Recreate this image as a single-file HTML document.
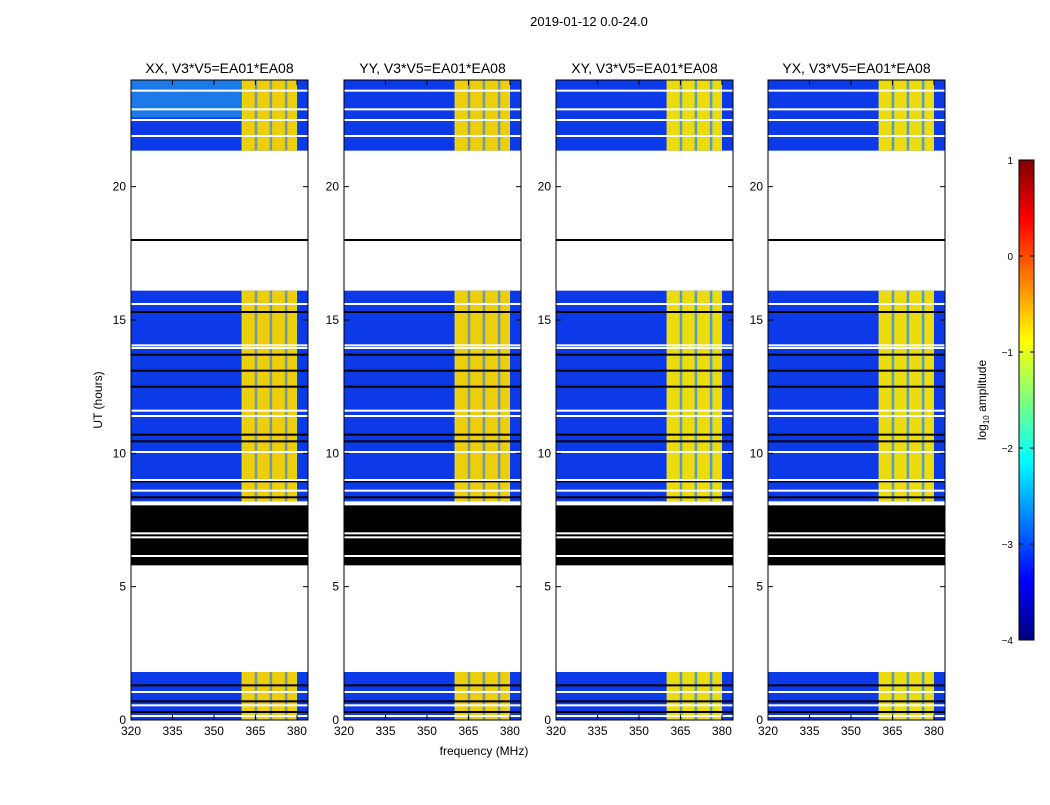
<!DOCTYPE html>
<html><head><meta charset="utf-8">
<style>
body{margin:0;background:#fff;font-family:"Liberation Sans",sans-serif;}
svg text{font-family:"Liberation Sans",sans-serif;}
</style></head>
<body>
<svg id="fig" width="1050" height="800" xmlns="http://www.w3.org/2000/svg">
<defs>
<linearGradient id="jet" x1="0" y1="1" x2="0" y2="0">
<stop offset="0" stop-color="#000080"/><stop offset="0.125" stop-color="#0000ff"/>
<stop offset="0.375" stop-color="#00ffff"/><stop offset="0.625" stop-color="#ffff00"/>
<stop offset="0.875" stop-color="#ff0000"/><stop offset="1" stop-color="#800000"/>
</linearGradient>
</defs>
<text x="589" y="26" font-size="13" text-anchor="middle">2019-01-12 0.0-24.0</text>
<text x="484" y="755" font-size="12" text-anchor="middle">frequency (MHz)</text>
<text x="102" y="400" font-size="12" text-anchor="middle" transform="rotate(-90 102 400)">UT (hours)</text>
<g id="panels"></g>
<g id="cbar"></g>
</svg>
<script>
const panelTitles = ["XX, V3*V5=EA01*EA08","YY, V3*V5=EA01*EA08","XY, V3*V5=EA01*EA08","YX, V3*V5=EA01*EA08"];
const dataSegments = [[0,1.8],[8.2,16.1],[21.35,24]];
const blackSegments = [[5.8,8.05]];
const blackLines = [18,0.3,0.7,1.3,8.35,8.95,10.45,10.7,12.5,13.1,13.7,15.3];
const whiteLines = [0.15,0.55,1.05,6.15,6.85,7.0,8.6,9.0,10.05,11.4,11.6,13.95,14.05,15.6,21.9,22.5,22.9,23.6];
const bandRange = [360,380];
const bandGaps = [365.1,370.5,376];
const xTicks = [320,335,350,365,380];
const yTicks = [0,5,10,15,20];
const cbarTicks = [1,0,-1,-2,-3,-4];
const panelLeft = [131,344,556,768];
const NS="http://www.w3.org/2000/svg";
function el(tag,attrs,parent){const e=document.createElementNS(NS,tag);for(const k in attrs)e.setAttribute(k,attrs[k]);parent.appendChild(e);return e;}
const W=177,plotTop=80,plotBot=720;
const yS=t=>plotBot-(t/24)*(plotBot-plotTop);
const P=document.getElementById('panels');
panelLeft.forEach((x0,i)=>{
  const xS=f=>x0+(f-320)*(W/64);
  const g=el('g',{},P);
  
  
  dataSegments.forEach(s=>{
    const y1=yS(s[1]),y0=yS(s[0]);
    const r=el('rect',{x:x0,y:y1,width:W,height:y0-y1,fill:'#0c3ae8'},g);
    
    
    const b=el('rect',{x:xS(bandRange[0]),y:y1,width:xS(bandRange[1])-xS(bandRange[0]),height:y0-y1,fill:'#eaea10'},g);
    
    
    bandGaps.forEach(f=>{el('rect',{x:xS(f)-1,y:y1,width:2.5,height:y0-y1,fill:'#3aa0e8'},g);});
    el('rect',{x:xS(bandRange[0])+1,y:y1,width:xS(bandRange[1])-xS(bandRange[0])-2,height:y0-y1,fill:'#f59000',opacity:i<2?0.3:0.15},g);
  });
  if(i===0){el('rect',{x:x0,y:yS(24),width:110,height:yS(22.6)-yS(24),fill:'#30c8e8',opacity:0.45},g);}
  blackSegments.forEach(s=>{const r=el('rect',{x:x0,y:yS(s[1]),width:W,height:yS(s[0])-yS(s[1]),fill:'#000'},g);
    });
  blackLines.forEach(t=>el('rect',{x:x0,y:yS(t)-1,width:W,height:2,fill:'#000'},g));
  whiteLines.forEach(t=>el('rect',{x:x0,y:yS(t)-1,width:W,height:2,fill:'#fff'},g));
  el('rect',{x:x0,y:plotTop,width:W,height:plotBot-plotTop,fill:'none',stroke:'#000','stroke-width':1},g);
  const tt=el('text',{x:x0+W/2,y:73,'font-size':14,'text-anchor':'middle'},g);tt.textContent=panelTitles[i];
  
  xTicks.forEach(f=>{const x=xS(f);
    el('line',{x1:x,x2:x,y1:plotBot,y2:plotBot-5,stroke:'#000'},g);el('line',{x1:x,x2:x,y1:plotTop,y2:plotTop+5,stroke:'#000'},g);
    const t=el('text',{x:x,y:plotBot+15,'font-size':12,'text-anchor':'middle'},g);t.textContent=f;
    });
  yTicks.forEach(v=>{const y=yS(v);
    el('line',{x1:x0,x2:x0+5,y1:y,y2:y,stroke:'#000'},g);el('line',{x1:x0+W,x2:x0+W-5,y1:y,y2:y,stroke:'#000'},g);
    const t=el('text',{x:x0-5,y:y+4,'font-size':12,'text-anchor':'end'},g);t.textContent=v;
    });
});
const C=document.getElementById('cbar');
const cy=v=>160+(1-v)*96;
const cr=el('rect',{x:1019,y:160,width:15,height:480,fill:'url(#jet)',stroke:'#000'},C);


cbarTicks.forEach(v=>{const y=cy(v);
  el('line',{x1:1019,x2:1023,y1:y,y2:y,stroke:'#000'},C);el('line',{x1:1034,x2:1030,y1:y,y2:y,stroke:'#000'},C);
  const t=el('text',{x:1013,y:y+4,'font-size':10,'text-anchor':'end'},C);t.textContent=(v<0?'\u2212'+(-v):v);
  });
const cl=el('text',{x:986,y:400,'font-size':12,'text-anchor':'middle',transform:'rotate(-90 986 400)'},C);
cl.innerHTML='log<tspan font-size="8" dy="3">10</tspan><tspan dy="-3"> amplitude</tspan>';


</script>
</body></html>
